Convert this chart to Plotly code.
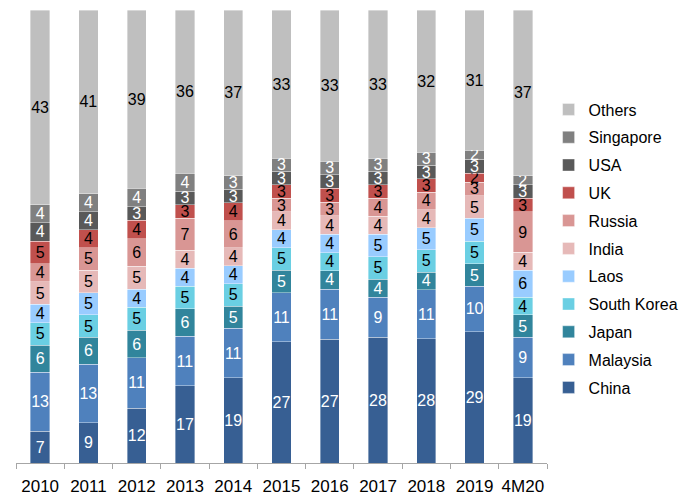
import plotly.graph_objects as go

categories = ["2010", "2011", "2012", "2013", "2014", "2015", "2016", "2017", "2018", "2019", "4M20"]

series_names = ["China", "Malaysia", "Japan", "South Korea", "Laos", "India", "Russia", "UK", "USA", "Singapore", "Others"]

china       = [7, 9, 12, 17, 19, 27, 27, 28, 28, 29, 19]
malaysia    = [13, 13, 11, 11, 11, 11, 11, 9, 11, 10, 9]
japan       = [6, 6, 6, 6, 5, 5, 4, 4, 4, 5, 5]
south_korea = [5, 5, 5, 5, 5, 5, 4, 5, 5, 5, 4]
laos        = [4, 5, 4, 4, 4, 4, 4, 5, 5, 5, 6]
india       = [5, 5, 5, 4, 4, 4, 4, 4, 4, 5, 4]
russia      = [4, 5, 6, 7, 6, 3, 3, 4, 4, 3, 9]
uk          = [5, 4, 4, 3, 4, 3, 3, 3, 3, 2, 3]
usa         = [4, 4, 3, 3, 3, 3, 3, 3, 3, 3, 3]
singapore   = [4, 4, 4, 4, 3, 3, 3, 3, 3, 2, 2]
others      = [43, 41, 39, 36, 37, 33, 33, 33, 32, 31, 37]

values = [china, malaysia, japan, south_korea, laos, india, russia, uk, usa, singapore, others]

colors = ["#375F93", "#4F81BD", "#31859C", "#6ACFE3", "#99CCFF", "#E6B9B8", "#D99694", "#C0504D", "#595959", "#808080", "#BFBFBF"]
text_colors = ["white", "white", "white", "black", "black", "black", "black", "black", "white", "white", "black"]

FONT = "Liberation Sans, Arial, sans-serif"

fig = go.Figure()
for i, (name, vals, col, tcol) in enumerate(zip(series_names, values, colors, text_colors)):
    fig.add_trace(go.Bar(
        x=categories, y=vals, name=name, legendgroup=name, legendrank=100 - i,
        marker=dict(color=col, line=dict(color="rgba(255,255,255,0.55)", width=0.7)),
        text=[str(v) for v in vals], textposition="inside", insidetextanchor="middle",
        textangle=0,
        textfont=dict(color=tcol, size=16, family=FONT),
        constraintext="none", hoverinfo="name+y",
    ))

fig.update_layout(
    barmode="stack", barnorm="percent", bargap=0.6,
    width=693, height=500,
    margin=dict(l=16, r=146, t=10, b=37, autoexpand=False),
    paper_bgcolor="white", plot_bgcolor="white",
    font=dict(family=FONT, color="black"),
    uniformtext=dict(minsize=16, mode="show"),
    showlegend=True,
    legend=dict(
        traceorder="grouped", tracegroupgap=4,
        x=1.003, xanchor="left", y=0.4735, yanchor="middle",
        font=dict(size=16, family=FONT, color="black"),
        bgcolor="rgba(0,0,0,0)",
    ),
    xaxis=dict(
        showline=True, linecolor="#A6A6A6", linewidth=1,
        ticks="outside", tickson="boundaries", ticklen=5, tickcolor="#A6A6A6",
        tickangle=0, automargin=False, ticklabelstandoff=8,
        tickfont=dict(size=17, family=FONT, color="black"),
        showgrid=False, zeroline=False, fixedrange=True,
    ),
    yaxis=dict(visible=False, range=[0, 100], fixedrange=True),
)

fig.write_html("out.html")
